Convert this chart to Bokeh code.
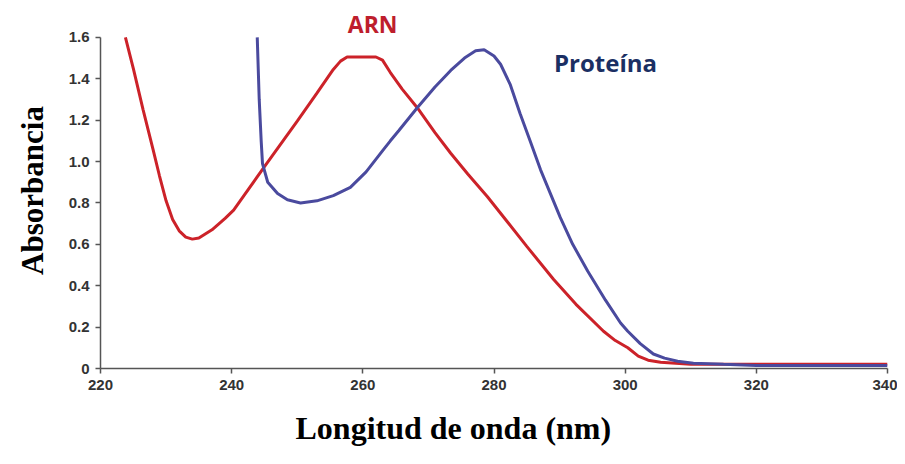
from bokeh.plotting import figure
from bokeh.models import Label, FixedTicker, CustomJSTickFormatter, Title
from bokeh.embed import file_html
from bokeh.resources import INLINE

# ARN (RNA) absorbance spectrum
arn_nm = [223.8, 225.0, 226.5, 228.0, 229.0, 230.0, 231.0, 232.0, 233.0, 234.0,
          235.0, 237.0, 239.0, 240.3, 241.3, 245.0, 250.0, 253.0, 255.5, 256.6,
          257.6, 262.0, 263.0, 264.2, 266.0, 268.3, 271.0, 273.4, 276.0, 279.0,
          282.0, 285.0, 289.1, 292.5, 296.7, 298.5, 300.4, 302.0, 303.5, 305.4,
          310.0, 320.0, 340.0]
arn_abs = [1.60, 1.45, 1.25, 1.06, 0.93, 0.81, 0.72, 0.665, 0.635, 0.625,
           0.63, 0.67, 0.725, 0.765, 0.81, 0.975, 1.195, 1.33, 1.445, 1.485,
           1.505, 1.505, 1.49, 1.43, 1.35, 1.26, 1.14, 1.04, 0.94, 0.83,
           0.71, 0.59, 0.43, 0.31, 0.18, 0.135, 0.10, 0.06, 0.04, 0.03,
           0.02, 0.02, 0.02]

# Proteína absorbance spectrum
prot_nm = [243.9, 244.2, 244.5, 244.7, 245.5, 247.0, 248.5, 250.5, 253.0, 255.5,
           258.1, 260.5, 263.2, 264.2, 265.5, 268.3, 271.0, 273.4, 275.5, 277.2,
           278.5, 280.0, 281.0, 282.5, 284.0, 285.5, 287.1, 290.1, 292.0, 294.3,
           297.0, 299.3, 300.4, 302.3, 304.3, 306.0, 308.0, 310.4, 315.0, 320.0,
           340.0]
prot_abs = [1.60, 1.30, 1.10, 0.99, 0.90, 0.845, 0.815, 0.80, 0.81, 0.835,
            0.875, 0.95, 1.06, 1.10, 1.15, 1.26, 1.36, 1.44, 1.50, 1.535,
            1.54, 1.51, 1.47, 1.37, 1.23, 1.10, 0.96, 0.73, 0.60, 0.47,
            0.33, 0.22, 0.18, 0.12, 0.07, 0.05, 0.035, 0.025, 0.02, 0.015,
            0.015]

x_ticks = [220, 240, 260, 280, 300, 320, 340]
y_ticks = [0, 0.2, 0.4, 0.6, 0.8, 1.0, 1.2, 1.4, 1.6]

p = figure(width=897, height=464, x_range=(220, 340), y_range=(0, 1.72),
           output_backend="svg", toolbar_location=None,
           min_border_left=100, min_border_right=10,
           min_border_top=12, min_border_bottom=96)
p.outline_line_color = None
p.grid.visible = False
p.background_fill_color = "white"
p.border_fill_color = "white"

p.line(arn_nm, arn_abs, line_color="#cc2229", line_width=3)
p.line(prot_nm, prot_abs, line_color="#4a4a9e", line_width=3)

for ax in (p.xaxis[0], p.yaxis[0]):
    ax.axis_line_color = "#555555"
    ax.axis_line_width = 1.5
    ax.major_tick_line_color = "#555555"
    ax.major_tick_line_width = 1.5
    ax.major_tick_in = 0
    ax.major_tick_out = 5
    ax.minor_tick_line_color = None
    ax.major_label_text_font = "Liberation Sans"
    ax.major_label_text_font_style = "bold"
    ax.major_label_text_font_size = "15px"
    ax.major_label_text_color = "#333333"
    ax.major_label_standoff = 6

p.xaxis.ticker = FixedTicker(ticks=x_ticks)
p.yaxis.ticker = FixedTicker(ticks=y_ticks)
p.yaxis.bounds = (0, 1.6)
p.yaxis.formatter = CustomJSTickFormatter(code="return tick == 0 ? '0' : tick.toFixed(1);")

p.add_layout(Title(text="Longitud de onda (nm)", align="left", offset=195,
                   standoff=34, vertical_align="top",
                   text_font="Liberation Serif", text_font_style="bold",
                   text_font_size="32px", text_color="black"), "below")
p.add_layout(Title(text="Absorbancia", align="center", offset=18,
                   standoff=27, vertical_align="top",
                   text_font="Liberation Serif", text_font_style="bold",
                   text_font_size="31px", text_color="black"), "left")

p.add_layout(Label(x=261.5, y=1.665, text="ARN",
                   text_font="Open Sans", text_font_style="bold",
                   text_font_size="23px", text_color="#be1e2d",
                   text_align="center", text_baseline="middle"))
p.add_layout(Label(x=297.0, y=1.479, text="Proteína",
                   text_font="Open Sans", text_font_style="bold",
                   text_font_size="24px", text_color="#1b2f63",
                   text_align="center", text_baseline="middle"))

open("out.html", "w").write(file_html(p, INLINE))
